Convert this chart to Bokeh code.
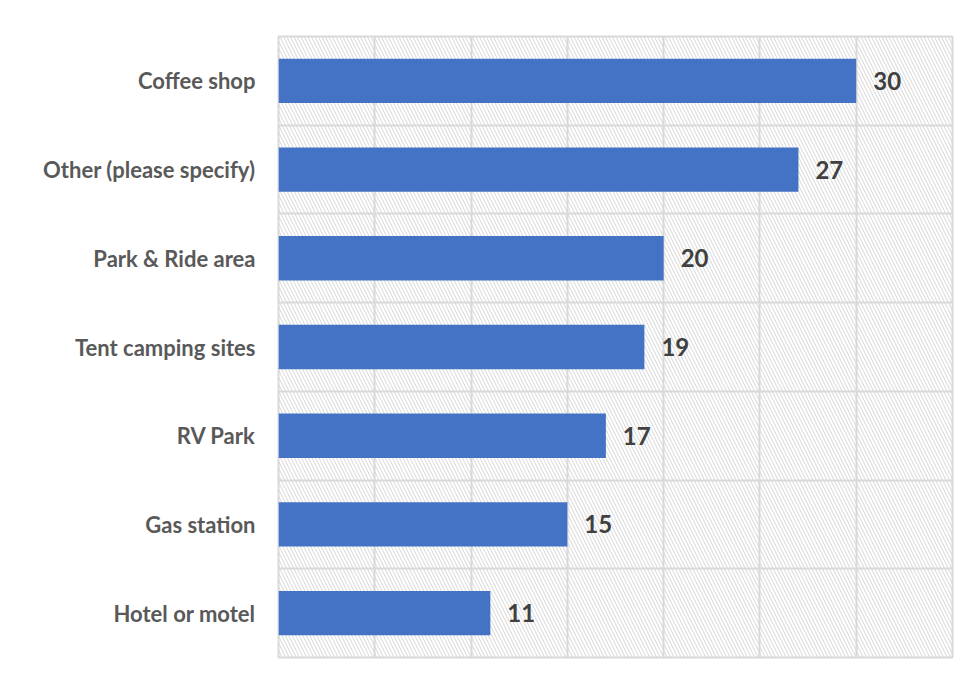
from bokeh.plotting import figure
from bokeh.models import ColumnDataSource, FixedTicker, Range1d
from bokeh.core.properties import value
from bokeh.embed import file_html
from bokeh.resources import INLINE

# Data (top to bottom as shown)
categories = ["Coffee shop", "Other (please specify)", "Park & Ride area",
              "Tent camping sites", "RV Park", "Gas station", "Hotel or motel"]
counts = [30, 27, 20, 19, 17, 15, 11]
x_max = 35
x_step = 5

n = len(categories)
ypos = [n - i for i in range(n)]  # top category gets highest position

src = ColumnDataSource(dict(y=ypos, v=counts, label=[str(c) for c in counts], cat=categories))

p = figure(width=962, height=665, output_backend="svg", toolbar_location=None,
           x_range=Range1d(0, x_max), y_range=Range1d(0.5, n + 0.5),
           min_border_left=278, min_border_right=10, min_border_top=36, min_border_bottom=8)

p.background_fill_color = "white"
p.border_fill_color = "white"
p.outline_line_color = "#d9d9d9"
p.outline_line_width = 2

# hatched plot-area background
p.quad(left=[0], right=[x_max], bottom=[0.5], top=[n + 0.5],
       fill_alpha=0, line_alpha=0, hatch_pattern="\\", hatch_color="#d6d6d6",
       hatch_scale=7, hatch_weight=1, level="image")

# bars
p.hbar(y="y", right="v", left=0, height=0.5, source=src,
       fill_color="#4472C4", line_color=None)

# value labels
p.text(x="v", y="y", text="label", source=src, x_offset=17,
       text_baseline="middle", text_align="left",
       text_font=value("Lato"), text_font_style="bold",
       text_font_size="24px", text_color="#404040")

# grids
p.xgrid.ticker = FixedTicker(ticks=list(range(0, x_max + 1, x_step)))
p.ygrid.ticker = FixedTicker(ticks=[k + 0.5 for k in range(n + 1)])
for g in (p.xgrid, p.ygrid):
    g.grid_line_color = "#d9d9d9"
    g.grid_line_width = 2

# axes
p.xaxis.visible = False
ax = p.yaxis[0]
ax.ticker = FixedTicker(ticks=ypos)
ax.major_label_overrides = {y: c for y, c in zip(ypos, categories)}
ax.axis_line_color = None
ax.major_tick_line_color = None
ax.minor_tick_line_color = None
ax.major_tick_out = 0
ax.major_tick_in = 0
ax.major_label_standoff = 23
ax.major_label_text_font = "Lato"
ax.major_label_text_font_style = "bold"
ax.major_label_text_font_size = "22px"
ax.major_label_text_color = "#595959"

open("out.html", "w").write(file_html(p, INLINE))
